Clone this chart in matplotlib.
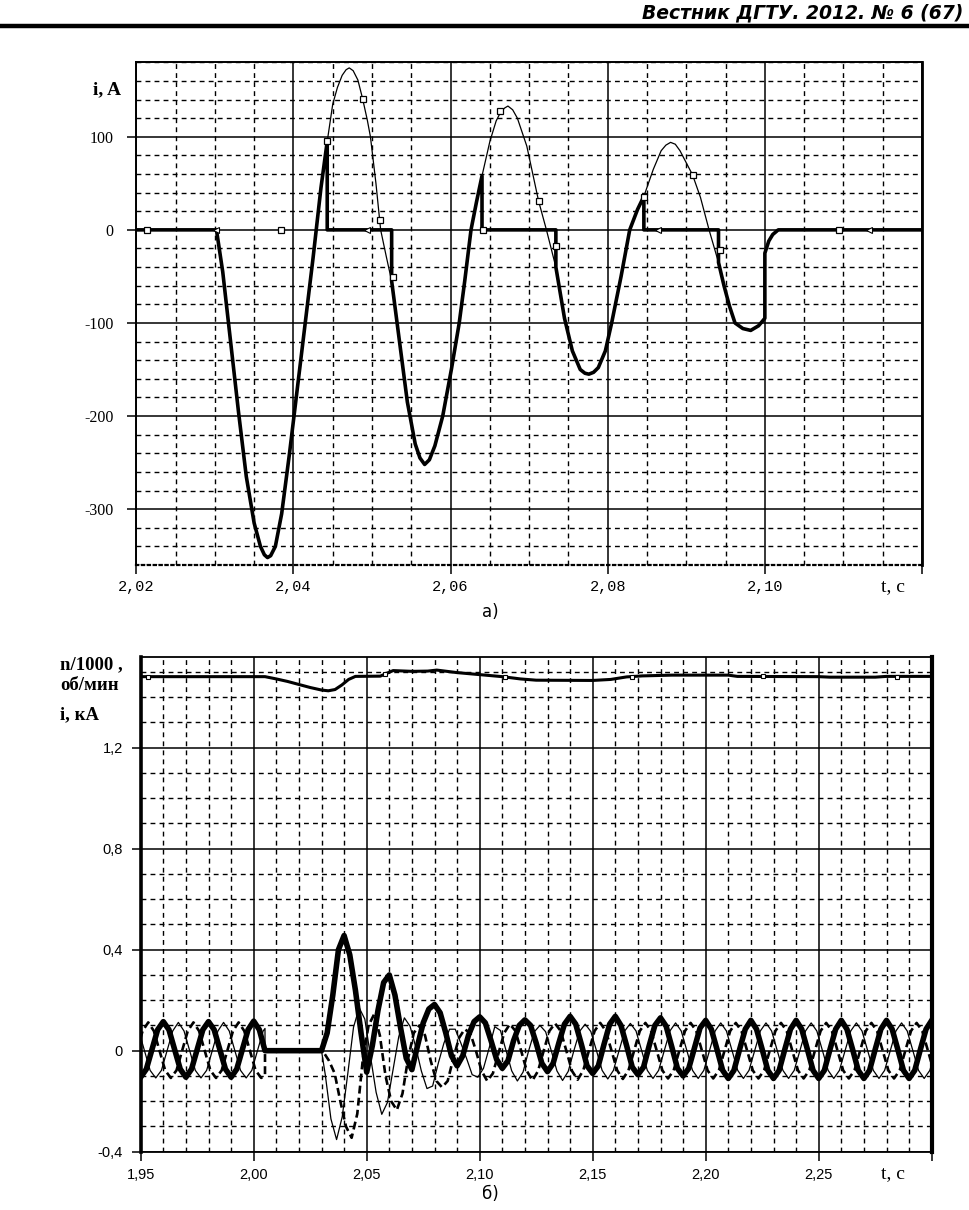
import numpy as np
import matplotlib
matplotlib.use("Agg")
import matplotlib.pyplot as plt
from matplotlib.lines import Line2D
from matplotlib.ticker import MultipleLocator, FixedLocator, FixedFormatter

# ---------------- DATA: chart a) ----------------
top_t = [2.0200, 2.0302, 2.0310, 2.0320, 2.0330, 2.0340, 2.0350, 2.0358, 2.0363, 2.0367,
         2.0371, 2.0377, 2.0385, 2.0395, 2.0405, 2.0415, 2.0425, 2.0429, 2.0435, 2.0443,
         2.0450, 2.0456, 2.0462, 2.0467, 2.0471, 2.0476, 2.0482, 2.0488, 2.0494, 2.0498,
         2.0505, 2.0511, 2.0518, 2.0525, 2.0535, 2.0545, 2.0555, 2.0561, 2.0567, 2.0573,
         2.0580, 2.0590, 2.0601, 2.0611, 2.0618, 2.0626, 2.0633, 2.0640, 2.0650, 2.0658,
         2.0664, 2.0669, 2.0673, 2.0679, 2.0685, 2.0697, 2.0712, 2.0722, 2.0734, 2.0745,
         2.0755, 2.0765, 2.0771, 2.0776, 2.0782, 2.0788, 2.0797, 2.0805, 2.0817, 2.0828,
         2.0838, 2.0846, 2.0858, 2.0868, 2.0874, 2.0880, 2.0886, 2.0892, 2.0908, 2.0918,
         2.0929, 2.0941, 2.0948, 2.0955, 2.0962, 2.0972, 2.0982, 2.0992, 2.1000, 2.1000,
         2.1005, 2.1010, 2.1017, 2.1200]
top_i = [0, 0, -45, -120, -195, -265, -315, -340, -349, -352,
         -350, -340, -305, -240, -170, -100, -30, 0, 45, 95,
         135, 153, 166, 172, 174, 171, 161, 141, 118, 100,
         50, 0, -28, -55, -120, -185, -230, -245, -252, -247,
         -232, -200, -150, -100, -55, 0, 30, 58, 95, 117,
         127, 131, 133, 129, 120, 90, 31, 0, -40, -95,
         -130, -150, -154, -155, -153, -148, -130, -100, -50, 0,
         22, 36, 65, 85, 91, 94, 92, 85, 59, 35,
         0, -35, -60, -82, -100, -106, -108, -103, -95, -25,
         -12, -5, 0, 0]
# intervals where the thick (switched) current is zero
gap_start = [2.0443, 2.0640, 2.0846]
gap_end = [2.0525, 2.0734, 2.0941]
sq_t = [2.0214, 2.0384, 2.0443, 2.0488, 2.0510, 2.0527, 2.0641, 2.0663, 2.0712, 2.0734,
        2.0846, 2.0908, 2.0943, 2.1094]
sq_i = [0, 0, 95, 141, 11, -51, 0, 128, 31, -17, 35, 59, -22, 0]
tri_t = [2.0302, 2.0494, 2.0864, 2.1132]
tri_i = [0, 0, 0, 0]

top_xticks = [2.02, 2.04, 2.06, 2.08, 2.10, 2.12]
top_xlabels = ["2,02", "2,04", "2,06", "2,08", "2,10", ""]
top_yticks = [-300, -200, -100, 0, 100]
top_ylabels = ["-300", "-200", "-100", "0", "100"]

# ---------------- DATA: chart б) ----------------
# speed n/1000
speed_t = [1.950, 2.005, 2.010, 2.015, 2.020, 2.025, 2.030, 2.033, 2.036, 2.039,
           2.042, 2.045, 2.056, 2.0617, 2.070, 2.077, 2.081, 2.090, 2.100, 2.110,
           2.118, 2.125, 2.150, 2.158, 2.165, 2.172, 2.185, 2.210, 2.214, 2.250,
           2.255, 2.275, 2.280, 2.300]
speed_v = [1.481, 1.481, 1.472, 1.462, 1.450, 1.438, 1.428, 1.425, 1.430, 1.448,
           1.470, 1.482, 1.483, 1.505, 1.502, 1.503, 1.507, 1.497, 1.489, 1.481,
           1.472, 1.467, 1.466, 1.470, 1.480, 1.484, 1.487, 1.487, 1.482, 1.481,
           1.479, 1.479, 1.482, 1.482]
speed_mk_t = [1.9532, 2.0581, 2.1113, 2.1673, 2.2253, 2.2846]
speed_mk_v = [1.481, 1.490, 1.480, 1.481, 1.482, 1.481]

# thick phase current, kA, sampled every 2.5 ms
thick_start1 = 1.95
thick_i1 = [-0.105, -0.073, 0.005, 0.083, 0.115, 0.083, 0.005, -0.073,
            -0.105, -0.073, 0.005, 0.083, 0.115, 0.083, 0.005, -0.073,
            -0.105, -0.073, 0.005, 0.083, 0.117, 0.083, 0.0]
thick_start2 = 2.03
thick_i2 = [0.0, 0.07, 0.22, 0.40, 0.456, 0.38, 0.24, 0.07,
            -0.085, 0.02, 0.16, 0.27, 0.30, 0.22, 0.09, -0.03,
            -0.075, 0.02, 0.11, 0.165, 0.183, 0.15, 0.07, -0.02,
            -0.06, -0.02, 0.06, 0.115, 0.134, 0.11, 0.04, -0.035,
            -0.07, -0.04, 0.04, 0.10, 0.122, 0.10, 0.03, -0.05,
            -0.083, -0.05, 0.03, 0.105, 0.136, 0.105, 0.025, -0.06,
            -0.09, -0.06, 0.025, 0.105, 0.136, 0.10, 0.02, -0.065,
            -0.095, -0.065, 0.02, 0.10, 0.13, 0.097, 0.015, -0.07,
            -0.10, -0.07, 0.01, 0.09, 0.12, 0.085, 0.005, -0.078,
            -0.11, -0.078, 0.005, 0.085, 0.12, 0.085, 0.005, -0.078,
            -0.11, -0.078, 0.005, 0.085, 0.12, 0.085, 0.005, -0.078,
            -0.11, -0.078, 0.005, 0.085, 0.12, 0.085, 0.005, -0.078,
            -0.11, -0.078, 0.005, 0.085, 0.12, 0.085, 0.005, -0.078,
            -0.11, -0.078, 0.005, 0.085, 0.12]

# thin solid phase current
thin_start1 = 1.94917
thin_i1 = [0.078, 0.0, -0.078, -0.108, -0.078, 0.0, 0.078, 0.112,
           0.078, 0.0, -0.078, -0.108, -0.078, 0.0, 0.078, 0.112,
           0.078, 0.0, -0.078, -0.108, -0.078, 0.0, 0.078]
thin_cut = 0.088
thin_start2 = 2.03167
thin_i2 = [-0.095, -0.27, -0.352, -0.262, -0.088, 0.093, 0.170, 0.125,
           -0.022, -0.165, -0.252, -0.205, -0.075, 0.055, 0.13, 0.097,
           0.016, -0.08, -0.15, -0.14, -0.05, 0.03, 0.085, 0.085,
           0.03, -0.03, -0.095, -0.105, -0.07, 0.01, 0.095, 0.08,
           0.0, -0.08, -0.12, -0.085, 0.0, 0.075, 0.10, 0.075,
           0.0, -0.08, -0.118, -0.082, 0.0, 0.076, 0.105, 0.076,
           0.0, -0.078, -0.112, -0.078, 0.0, 0.078, 0.108, 0.078,
           0.0, -0.078, -0.11, -0.078, 0.0, 0.078, 0.11, 0.078,
           0.0, -0.078, -0.11, -0.078, 0.0, 0.078, 0.11, 0.078,
           0.0, -0.078, -0.11, -0.078, 0.0, 0.078, 0.11, 0.078,
           0.0, -0.078, -0.11, -0.078, 0.0, 0.078, 0.11, 0.078,
           0.0, -0.078, -0.11, -0.078, 0.0, 0.078, 0.11, 0.078,
           0.0, -0.078, -0.11, -0.078, 0.0, 0.078, 0.11, 0.078,
           0.0, -0.078, -0.11, -0.078, 0.0]

# dashed phase current
dash_start1 = 1.94833
dash_i1 = [0.0, 0.078, 0.112, 0.078, 0.0, -0.078, -0.108, -0.078,
           0.0, 0.078, 0.112, 0.078, 0.0, -0.078, -0.108, -0.078,
           0.0, 0.078, 0.112, 0.078, 0.0, -0.078, -0.108]
dash_cut = -0.095
dash_start2 = 2.03083
dash_i2 = [-0.005, -0.04, -0.09, -0.2, -0.3, -0.345, -0.25, -0.03,
           0.1, 0.145, 0.06, -0.1, -0.2, -0.235, -0.17, -0.03,
           0.07, 0.1, 0.06, -0.04, -0.12, -0.145, -0.12, -0.03,
           0.05, 0.085, 0.07, 0.0, -0.08, -0.12, -0.09, -0.01,
           0.07, 0.105, 0.078, 0.0, -0.08, -0.118, -0.08, 0.0,
           0.078, 0.108, 0.078, 0.0, -0.08, -0.115, -0.078, 0.0,
           0.078, 0.11, 0.078, 0.0, -0.078, -0.112, -0.078, 0.0,
           0.078, 0.11, 0.078, 0.0, -0.078, -0.11, -0.078, 0.0,
           0.078, 0.11, 0.078, 0.0, -0.078, -0.11, -0.078, 0.0,
           0.078, 0.11, 0.078, 0.0, -0.078, -0.11, -0.078, 0.0,
           0.078, 0.11, 0.078, 0.0, -0.078, -0.11, -0.078, 0.0,
           0.078, 0.11, 0.078, 0.0, -0.078, -0.11, -0.078, 0.0,
           0.078, 0.11, 0.078, 0.0, -0.078, -0.11, -0.078, 0.0,
           0.078, 0.11, 0.078, 0.0, -0.078]
interrupt_t = 2.005
restart_t = 2.03
step = 0.0025

bot_xticks = [1.95, 2.00, 2.05, 2.10, 2.15, 2.20, 2.25, 2.30]
bot_xlabels = ["1,95", "2,00", "2,05", "2,10", "2,15", "2,20", "2,25", ""]
bot_yticks = [-0.4, 0.0, 0.4, 0.8, 1.2]
bot_ylabels = ["-0,4", "0", "0,4", "0,8", "1,2"]

# ---------------- FIGURE ----------------
W, H = 970, 1210
fig = plt.figure(figsize=(W / 100, H / 100), dpi=100)


def fx(px):
    return px / W


def fy(py):
    return 1 - py / H


def samples(start, vals):
    return list(np.round(start + step * np.arange(len(vals)), 6))


def style_axes(ax, spine_w, xpad, ypad):
    ax.tick_params(which='major', direction='out', length=6.5, width=1.1, color='k')
    ax.tick_params(axis='x', which='major', pad=xpad)
    ax.tick_params(axis='y', which='major', pad=ypad)
    ax.tick_params(which='minor', length=0)
    ax.grid(which='major', color='k', lw=1.1, ls='-')
    ax.grid(which='minor', color='k', lw=1.0, ls=(0, (3.5, 3.0)))
    ax.set_axisbelow(True)
    for side, w in spine_w.items():
        ax.spines[side].set_linewidth(w)


# ---- chart a) ----
ax1 = fig.add_axes([fx(136.3), fy(565), fx(922) - fx(136.3), fy(62.3) - fy(565)])
ax1.set_xlim(2.02, 2.12)
ax1.set_ylim(-360, 180)
ax1.xaxis.set_major_locator(FixedLocator(top_xticks))
ax1.xaxis.set_major_formatter(FixedFormatter(top_xlabels))
ax1.xaxis.set_minor_locator(MultipleLocator(0.005))
ax1.yaxis.set_major_locator(FixedLocator(top_yticks))
ax1.yaxis.set_major_formatter(FixedFormatter(top_ylabels))
ax1.yaxis.set_minor_locator(MultipleLocator(20))
style_axes(ax1, {'left': 1.4, 'right': 2.0, 'top': 1.4, 'bottom': 1.6}, xpad=4.5, ypad=10)
ax1.spines['bottom'].set_linestyle(':')
for lab in ax1.get_xticklabels():
    lab.set_family('Liberation Mono')
    lab.set_fontsize(11)
for lab in ax1.get_yticklabels():
    lab.set_family('Liberation Serif')
    lab.set_fontsize(11.5)

# thick switched current: thin curve with zero gaps
thick_t, thick_v = [], []
for tv, iv in zip(top_t, top_i):
    if any(a < tv < b for a, b in zip(gap_start, gap_end)):
        continue
    if any(abs(tv - a) < 1e-9 for a in gap_start):
        thick_t += [tv, tv]
        thick_v += [iv, 0]
    elif any(abs(tv - b) < 1e-9 for b in gap_end):
        thick_t += [tv, tv]
        thick_v += [0, iv]
    else:
        thick_t.append(tv)
        thick_v.append(iv)

ax1.plot(top_t, top_i, color='k', lw=0.9, zorder=3)
ax1.plot(thick_t, thick_v, color='k', lw=2.6, zorder=4, solid_joinstyle='round')
ax1.plot(sq_t, sq_i, ls='none', marker='s', ms=4, mfc='white', mec='k', mew=0.9, zorder=5)
ax1.plot(tri_t, tri_i, ls='none', marker='<', ms=4, mfc='white', mec='k', mew=0.8, zorder=5)

fig.text(fx(107), fy(90), "i, A", fontsize=14, fontweight='bold', family='Liberation Serif',
         ha='center', va='center')
fig.text(fx(893), fy(587), "t, c", fontsize=14, family='Liberation Serif', ha='center', va='center')
fig.text(fx(490), fy(612), "а)", fontsize=12, family='DejaVu Sans', ha='center', va='center')

# ---- chart б) ----
ax2 = fig.add_axes([fx(140.7), fy(1151.7), fx(931.7) - fx(140.7), fy(656.7) - fy(1151.7)])
ax2.set_xlim(1.95, 2.30)
ax2.set_ylim(-0.4, 1.56)
ax2.xaxis.set_major_locator(FixedLocator(bot_xticks))
ax2.xaxis.set_major_formatter(FixedFormatter(bot_xlabels))
ax2.xaxis.set_minor_locator(MultipleLocator(0.01))
ax2.yaxis.set_major_locator(FixedLocator(bot_yticks))
ax2.yaxis.set_major_formatter(FixedFormatter(bot_ylabels))
ax2.yaxis.set_minor_locator(MultipleLocator(0.1))
style_axes(ax2, {'left': 2.6, 'right': 3.0, 'top': 1.3, 'bottom': 1.3}, xpad=5.5, ypad=6.5)
for lab in ax2.get_xticklabels() + ax2.get_yticklabels():
    lab.set_family('Liberation Sans')
    lab.set_fontsize(10.5)

t_th = samples(thick_start1, thick_i1) + samples(thick_start2, thick_i2)
v_th = thick_i1 + thick_i2
t_tn = samples(thin_start1, thin_i1) + [interrupt_t, interrupt_t, restart_t] + samples(thin_start2, thin_i2)
v_tn = thin_i1 + [thin_cut, 0.0, 0.0] + thin_i2
t_ds = samples(dash_start1, dash_i1) + [interrupt_t, interrupt_t, restart_t] + samples(dash_start2, dash_i2)
v_ds = dash_i1 + [dash_cut, 0.0, 0.0] + dash_i2

ax2.plot(t_tn, v_tn, color='k', lw=0.9, zorder=3)
ax2.plot(t_ds, v_ds, color='k', lw=1.9, ls=(0, (3.0, 1.6)), zorder=3)
ax2.plot(t_th, v_th, color='k', lw=4.0, zorder=4, solid_joinstyle='round')
ax2.plot(speed_t, speed_v, color='k', lw=2.2, zorder=4)
ax2.plot(speed_mk_t, speed_mk_v, ls='none', marker='s', ms=3.5, mfc='white', mec='k', mew=0.8, zorder=5)

fig.text(fx(60), fy(665), "n/1000 ,", fontsize=13.5, fontweight='bold', family='Liberation Serif',
         ha='left', va='center')
fig.text(fx(60), fy(686), "об/мин", fontsize=13.5, fontweight='bold', family='Liberation Serif',
         ha='left', va='center')
fig.text(fx(60), fy(715), "i, кА", fontsize=13.5, fontweight='bold', family='Liberation Serif',
         ha='left', va='center')
fig.text(fx(893), fy(1174), "t, c", fontsize=14, family='Liberation Serif', ha='center', va='center')
fig.text(fx(490), fy(1194), "б)", fontsize=12, family='DejaVu Sans', ha='center', va='center')

# ---- header ----
fig.text(fx(963), fy(13), "Вестник ДГТУ. 2012. № 6 (67)", fontsize=13.5, fontweight='bold',
         style='italic', family='DejaVu Sans', ha='right', va='center')
fig.add_artist(Line2D([0, 1], [fy(26), fy(26)], color='k', lw=3.2, transform=fig.transFigure))

fig.savefig("out.png", dpi=100, facecolor='white')
